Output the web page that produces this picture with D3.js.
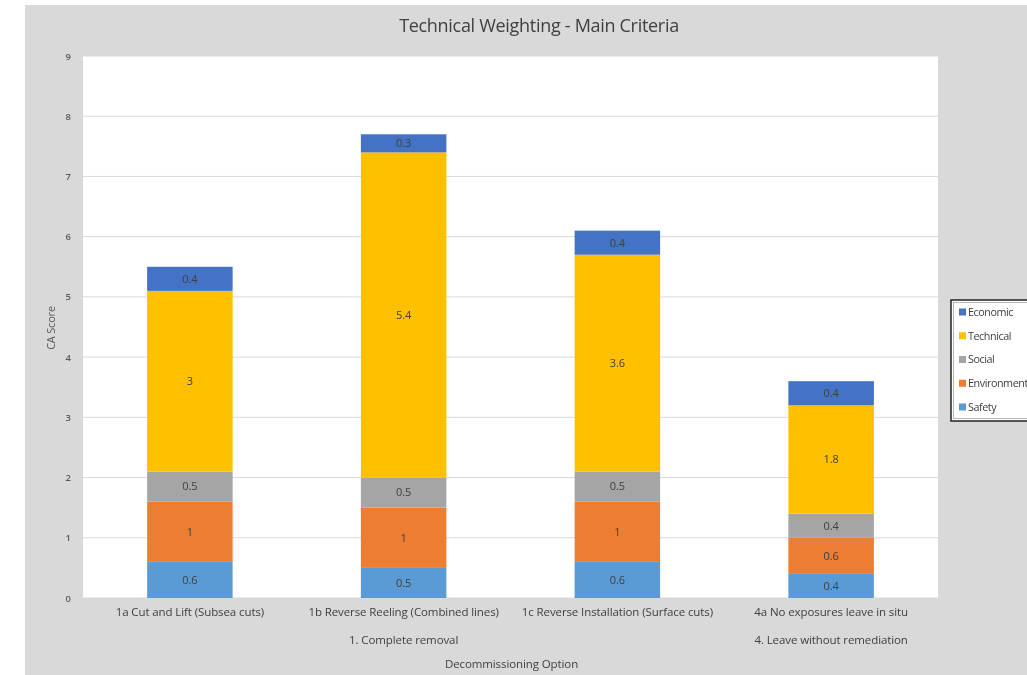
<!DOCTYPE html>
<html><head><meta charset="utf-8">
<script src="https://cdn.jsdelivr.net/npm/d3@7"></script>
<style>html,body{margin:0;padding:0;background:#fff;overflow:hidden}svg{display:block;filter:blur(0.45px)}</style>
</head><body>
<svg id="c" width="1027" height="675"></svg>
<script>
const categories = ["1a Cut and Lift (Subsea cuts)","1b Reverse Reeling (Combined lines)","1c Reverse Installation (Surface cuts)","4a No exposures leave in situ"];
const groups = [{label:"1. Complete removal", from:0, to:2},{label:"4. Leave without remediation", from:3, to:3}];
const seriesNames = ["Safety","Environment","Social","Technical","Economic"];
const safety = [0.6,0.5,0.6,0.4];
const environment = [1,1,1,0.6];
const social = [0.5,0.5,0.5,0.4];
const technical = [3,5.4,3.6,1.8];
const economic = [0.4,0.3,0.4,0.4];
const colors = ["#5b9bd5","#ed7d31","#a5a5a5","#ffc000","#4472c4"];
const yTicks = [0,1,2,3,4,5,6,7,8,9];

const svg = d3.select("#c");
const font = "'Open Sans', sans-serif";
svg.append("rect").attr("x",25).attr("y",5).attr("width",1010).attr("height",675).attr("fill","#d9d9d9");

const L=83,R=938,T=56,B=598;
svg.append("rect").attr("x",L).attr("y",T).attr("width",R-L).attr("height",B-T).attr("fill","#fff");

const x = d3.scaleBand().domain(categories).range([L,R]).paddingInner(0.6).paddingOuter(0.3);
const y = d3.scaleLinear().domain([0,9]).range([B,T]);

svg.append("g").selectAll("line").data(yTicks).join("line")
  .attr("x1",L).attr("x2",R).attr("y1",d=>y(d)).attr("y2",d=>y(d))
  .attr("stroke","#d9d9d9").attr("stroke-width",1);

const yAxis = svg.append("g").attr("transform",`translate(${L},0)`).call(d3.axisLeft(y).tickValues(yTicks).tickSize(0).tickPadding(12));
yAxis.select(".domain").remove();
yAxis.selectAll("text").attr("font-family",font).attr("font-size",9.5).attr("font-weight",600).attr("fill","#595959");

const rows = categories.map((c,i)=>({cat:c,Safety:safety[i],Environment:environment[i],Social:social[i],Technical:technical[i],Economic:economic[i]}));
const stack = d3.stack().keys(seriesNames)(rows);

const g = svg.append("g");
stack.forEach((s,si)=>{
  const gg = g.append("g").attr("fill",colors[si]);
  gg.selectAll("rect").data(s).join("rect")
    .attr("x",d=>x(d.data.cat)).attr("width",x.bandwidth())
    .attr("y",d=>y(d[1])).attr("height",d=>y(d[0])-y(d[1]));
  gg.selectAll("text").data(s).join("text")
    .attr("x",d=>x(d.data.cat)+x.bandwidth()/2).attr("y",d=>(y(d[0])+y(d[1]))/2)
    .attr("dy","0.35em").attr("text-anchor","middle")
    .attr("font-family",font).attr("font-size",11).attr("fill","#404040")
    .text(d=>d3.format("~g")(+(d[1]-d[0]).toFixed(2)));
});

const xAxis = svg.append("g").attr("transform",`translate(0,${B})`).call(d3.axisBottom(x).tickSize(0).tickPadding(10));
xAxis.select(".domain").attr("stroke","#d9d9d9");
xAxis.selectAll("text").attr("font-family",font).attr("font-size",11.5).attr("letter-spacing","-0.1").attr("fill","#404040");

svg.append("g").selectAll("text").data(groups).join("text")
  .attr("x",d=>(x(categories[d.from])+x(categories[d.to])+x.bandwidth())/2)
  .attr("y",644).attr("text-anchor","middle").attr("font-family",font).attr("font-size",11.5).attr("letter-spacing","-0.1").attr("fill","#404040")
  .text(d=>d.label);

svg.append("text").attr("x",(L+R)/2 + 1).attr("y",668).attr("text-anchor","middle")
  .attr("font-family",font).attr("font-size",11.5).attr("letter-spacing","-0.1").attr("fill","#404040").text("Decommissioning Option");

svg.append("text").attr("transform",`translate(55,328) rotate(-90)`).attr("text-anchor","middle")
  .attr("font-family",font).attr("font-size",11).attr("letter-spacing","-0.2").attr("fill","#595959").text("CA Score");

svg.append("text").attr("x",539).attr("y",32).attr("text-anchor","middle")
  .attr("font-family",font).attr("font-size",18).attr("letter-spacing","-0.3").attr("fill","#404040").text("Technical Weighting - Main Criteria");

// legend
const lg = svg.append("g");
lg.append("rect").attr("x",951).attr("y",300).attr("width",90).attr("height",121).attr("fill","#fff").attr("stroke","#222").attr("stroke-width",1.5);
lg.append("rect").attr("x",953.5).attr("y",302.5).attr("width",90).attr("height",116).attr("fill","none").attr("stroke","#999").attr("stroke-width",0.7);
const legendOrder = seriesNames.slice().reverse();
const ly = d3.scalePoint().domain(legendOrder).range([312,407]);
legendOrder.forEach(n=>{
  const ci = seriesNames.indexOf(n);
  lg.append("rect").attr("x",959).attr("y",ly(n)-3.5).attr("width",7).attr("height",7).attr("fill",colors[ci]);
  lg.append("text").attr("x",968).attr("y",ly(n)).attr("dy","0.35em").attr("font-family",font).attr("font-size",10.8).attr("letter-spacing","-0.45").attr("fill","#404040").text(n);
});
</script>
</body></html>
